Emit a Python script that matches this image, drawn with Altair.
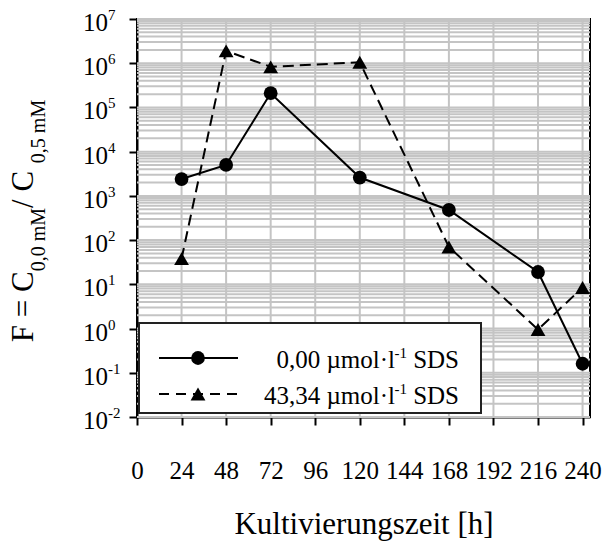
import altair as alt
import pandas as pd

FONT = "Liberation Serif"

# Cultivation time [h] and factor F for both SDS concentrations
hours = [24, 48, 72, 120, 168, 216, 240]
f_sds_0 = [2.4e3, 5.0e3, 2.1e5, 2.6e3, 480, 19, 0.16]
f_sds_43 = [38, 1.9e6, 8.3e5, 1.05e6, 70, 0.95, 8.5]
legend_values = ["0,00", "43,34"]

x_ticks = [0, 24, 48, 72, 96, 120, 144, 168, 192, 216, 240]
decades = list(range(-2, 8))
grid_f = [m * 10.0 ** e for e in range(-2, 7) for m in range(1, 10)] + [1e7]

W, H = 453, 398

df0 = pd.DataFrame({"h": hours, "F": f_sds_0})
df43 = pd.DataFrame({"h": hours, "F": f_sds_43})
one = pd.DataFrame({"k": [0]})

x_scale = alt.Scale(domain=[0, 244], nice=False, zero=False)
y_scale = alt.Scale(type="log", domain=[0.01, 1e7], nice=False)

x_axis = alt.Axis(
    values=x_ticks, title="Kultivierungszeit [h]", grid=False,
    labelFont=FONT, labelFontSize=25, labelColor="black", labelPadding=33,
    labelOverlap=False, labelFlush=False, labelBound=False,
    tickSize=8, tickWidth=2, tickColor="black",
    domainColor="black", domainWidth=2,
    titleFont=FONT, titleFontSize=31, titleFontWeight="normal",
    titleColor="black", titlePadding=26,
)
y_axis = alt.Axis(
    values=[10.0 ** e for e in decades], labels=False, title=None, grid=False,
    tickSize=8, tickWidth=2, tickColor="black",
    domainColor="black", domainWidth=2,
)

X = alt.X("h:Q", scale=x_scale, axis=x_axis)
Y = alt.Y("F:Q", scale=y_scale, axis=y_axis)

# grey log grid (all 1..9 x 10^n) and vertical time grid
hgrid = alt.Chart(pd.DataFrame({"F": grid_f})).mark_rule(
    color="#c4c4c4", strokeWidth=2
).encode(y=Y)
vgrid = alt.Chart(pd.DataFrame({"h": x_ticks[1:]})).mark_rule(
    color="#c4c4c4", strokeWidth=2
).encode(x=X)

# legend box inside the plot
leg_box = alt.Chart(one).mark_rect(
    fill="white", stroke="#222222", strokeWidth=2
).encode(x=alt.value(2), x2=alt.value(344), y=alt.value(304), y2=alt.value(394))
row_y = [339, 375]
leg_line0 = alt.Chart(one).mark_rule(color="black", strokeWidth=2).encode(
    x=alt.value(22), x2=alt.value(101), y=alt.value(row_y[0]))
leg_line43 = alt.Chart(one).mark_rule(
    color="black", strokeWidth=2, strokeDash=[10, 7]
).encode(x=alt.value(22), x2=alt.value(101), y=alt.value(row_y[1]))
leg_pt0 = alt.Chart(one).mark_point(
    shape="circle", filled=True, color="black", opacity=1, size=190
).encode(x=alt.value(61), y=alt.value(row_y[0]))
leg_pt43 = alt.Chart(one).mark_point(
    shape="triangle-up", filled=True, color="black", opacity=1, size=220
).encode(x=alt.value(61), y=alt.value(row_y[1]))

leg_texts = []
for val, yy in zip(legend_values, row_y):
    leg_texts.append(alt.Chart(one).mark_text(
        font=FONT, fontSize=25, align="right", baseline="middle", color="black",
        text=" SDS").encode(x=alt.value(322), y=alt.value(yy + 2)))
    leg_texts.append(alt.Chart(one).mark_text(
        font=FONT, fontSize=15, align="right", baseline="middle", color="black",
        text="-1").encode(x=alt.value(270), y=alt.value(yy - 5)))
    leg_texts.append(alt.Chart(one).mark_text(
        font=FONT, fontSize=25, align="right", baseline="middle", color="black",
        text=f"{val} µmol·l").encode(x=alt.value(258), y=alt.value(yy + 2)))

# data series
line0 = alt.Chart(df0).mark_line(color="black", strokeWidth=2).encode(x=X, y=Y)
line43 = alt.Chart(df43).mark_line(
    color="black", strokeWidth=2, strokeDash=[11, 6]).encode(x=X, y=Y)
pts0 = alt.Chart(df0).mark_point(
    shape="circle", filled=True, color="black", opacity=1, size=190
).encode(x=X, y=Y)
pts43 = alt.Chart(df43).mark_point(
    shape="triangle-up", filled=True, color="black", opacity=1, size=220
).encode(x=X, y=Y)

# y tick labels written as 10 with a raised exponent
lab_df = pd.DataFrame({"F": [10.0 ** e for e in decades],
                       "exp": [str(e) for e in decades]})
lab_base = alt.Chart(lab_df).mark_text(
    font=FONT, fontSize=25, align="right", baseline="middle", color="black",
    dy=4, text="10").encode(x=alt.value(-29), y=Y)
lab_exp = alt.Chart(lab_df).mark_text(
    font=FONT, fontSize=15, align="left", baseline="middle", color="black",
    dy=-4).encode(x=alt.value(-29), y=Y, text="exp:N")

# rotated y title with subscripts: F = C_(0,0 mM) / C_(0,5 mM)
char_w = {"F": .556, " ": .25, "=": .564, "C": .667, "0": .5, ",": .25,
          "m": .778, "M": .889, "5": .5, "/": .278}
main_fs, sub_fs = 31, 20
pieces = [("F = C", main_fs, -104), ("0,0 mM", sub_fs, -92),
          (" / C", main_fs, -104), ("0,5 mM", sub_fs, -92)]
total = sum(sum(char_w[c] for c in t) * fs for t, fs, _ in pieces)
pos = H / 2 + 3 + total / 2
title_layers = []
for t, fs, xx in pieces:
    title_layers.append(alt.Chart(one).mark_text(
        font=FONT, fontSize=fs, angle=270, align="left", baseline="alphabetic",
        color="black", text=t).encode(x=alt.value(xx), y=alt.value(pos)))
    pos -= sum(char_w[c] for c in t) * fs

chart = alt.layer(
    hgrid, vgrid, leg_box, leg_line0, leg_line43, leg_pt0, leg_pt43, *leg_texts,
    line0, line43, pts0, pts43, lab_base, lab_exp, *title_layers
).properties(
    width=W, height=H,
    autosize=alt.AutoSizeParams(type="none"),
    padding={"left": 137, "top": 19, "right": 14, "bottom": 129},
).configure_view(stroke="black", strokeWidth=2)

chart.save("out.html", embed_options={"renderer": "svg", "actions": False})
